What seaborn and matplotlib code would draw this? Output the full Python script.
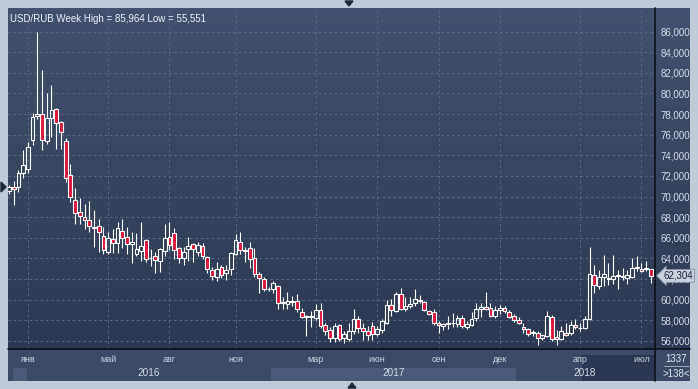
import numpy as np
import pandas as pd
import matplotlib.pyplot as plt
from matplotlib.patches import Rectangle, Polygon
from matplotlib.colors import LinearSegmentedColormap
from matplotlib.transforms import blended_transform_factory
import seaborn as sns

# weekly USD/RUB candles
opens = [70.5, 70.9, 70.9, 72.3, 72.7, 75.5, 77.8, 78.0, 75.4, 77.6,
         78.5, 77.2, 75.4, 72.1, 69.7, 68.5, 68.0, 67.7, 67.0, 67.1,
         66.2, 64.6, 65.9, 65.5, 66.7, 66.1, 65.4, 64.4, 64.7, 65.8,
         64.0, 64.2, 63.7, 64.7, 66.1, 66.5, 65.0, 64.0, 64.9, 65.4,
         64.6, 65.2, 64.1, 62.9, 62.2, 63.2, 62.6, 63.0, 64.4, 65.6,
         64.7, 65.0, 64.0, 62.5, 62.0, 61.0, 61.0, 61.3, 59.7, 59.6,
         59.8, 59.9, 58.8, 58.3, 58.3, 58.2, 59.0, 57.5, 57.0, 56.3,
         57.5, 56.3, 56.2, 56.9, 58.1, 57.2, 56.9, 57.4, 56.7, 57.0,
         57.7, 59.5, 58.9, 60.5, 59.1, 59.4, 59.7, 59.9, 59.8, 58.9,
         58.8, 57.7, 57.4, 57.6, 57.7, 57.6, 58.2, 57.3, 57.5, 58.2,
         59.1, 59.3, 59.2, 58.4, 59.0, 59.2, 58.8, 58.4, 58.0, 57.3,
         57.1, 56.8, 56.8, 56.3, 56.5, 58.3, 56.4, 56.2, 56.8, 56.8,
         57.5, 57.2, 57.2, 58.1, 62.4, 61.3, 62.2, 62.0, 62.0, 62.3,
         62.2, 62.1, 62.2, 63.1, 63.0, 63.0, 63.0]
highs = [71.1, 71.5, 72.6, 74.5, 75.3, 78.1, 86.0, 82.3, 80.0, 80.8,
         78.6, 77.3, 75.7, 73.2, 70.8, 69.9, 69.3, 69.6, 68.7, 67.8,
         67.0, 66.6, 66.8, 67.5, 67.8, 67.0, 66.6, 66.5, 67.5, 65.9,
         64.9, 64.6, 65.0, 67.3, 67.5, 66.9, 65.1, 65.1, 66.1, 65.5,
         65.6, 65.5, 64.2, 63.2, 63.6, 63.4, 63.4, 64.6, 66.4, 66.6,
         65.1, 65.6, 65.0, 62.7, 62.2, 61.2, 61.8, 61.4, 60.2, 60.7,
         60.3, 60.5, 59.2, 58.5, 58.9, 59.6, 59.7, 57.7, 57.3, 57.7,
         57.6, 56.9, 57.7, 59.1, 58.4, 57.7, 57.4, 57.8, 57.4, 58.1,
         60.0, 60.1, 60.7, 61.1, 60.2, 60.2, 61.0, 60.4, 59.9, 59.0,
         59.1, 57.9, 57.7, 58.4, 58.7, 58.5, 58.5, 57.9, 58.8, 59.7,
         59.7, 60.7, 59.7, 59.4, 59.5, 59.4, 59.0, 58.6, 58.3, 57.7,
         57.2, 57.0, 56.9, 56.5, 58.9, 58.5, 57.0, 57.4, 57.7, 57.9,
         58.1, 57.7, 58.4, 65.1, 63.4, 62.9, 64.3, 63.5, 64.3, 62.9,
         63.1, 62.9, 64.0, 64.2, 63.5, 63.7, 63.0]
lows = [70.2, 69.2, 70.4, 71.8, 72.3, 75.0, 77.5, 74.5, 75.1, 75.8,
        74.6, 74.6, 71.4, 69.5, 67.3, 67.3, 66.8, 66.6, 65.1, 64.6,
        64.4, 64.4, 64.5, 64.5, 65.0, 64.4, 63.5, 64.2, 63.7, 63.6,
        63.3, 62.6, 62.7, 64.2, 64.8, 63.9, 63.5, 63.4, 63.7, 63.6,
        64.2, 63.9, 62.6, 61.9, 61.8, 62.1, 61.9, 62.4, 64.3, 64.4,
        63.6, 63.1, 62.2, 60.6, 60.8, 60.8, 60.6, 59.1, 59.1, 59.1,
        59.4, 58.8, 58.2, 56.5, 57.3, 58.0, 57.2, 56.6, 55.9, 55.9,
        56.0, 55.8, 56.0, 56.7, 56.8, 56.1, 56.1, 56.1, 56.5, 56.8,
        57.6, 58.4, 58.8, 59.0, 58.9, 59.2, 59.4, 59.7, 58.9, 58.5,
        57.5, 56.8, 57.0, 57.1, 57.3, 57.3, 57.2, 57.1, 57.4, 57.9,
        58.3, 59.0, 58.3, 58.2, 58.6, 58.7, 58.2, 57.8, 57.6, 56.8,
        56.5, 56.5, 55.6, 56.1, 56.4, 56.0, 55.6, 56.1, 56.5, 56.6,
        57.1, 56.9, 57.1, 58.0, 60.6, 61.0, 61.3, 61.4, 61.5, 61.0,
        61.9, 61.5, 62.1, 62.8, 62.7, 62.8, 61.6]
closes = [70.9, 70.7, 72.3, 73.1, 74.8, 77.7, 78.0, 75.5, 77.6, 78.4,
          77.1, 76.3, 71.8, 70.0, 68.4, 68.1, 67.7, 67.1, 66.95, 66.6,
          64.8, 66.0, 65.5, 66.9, 66.0, 65.4, 65.6, 64.9, 65.2, 63.9,
          64.05, 63.8, 64.9, 66.0, 65.3, 64.8, 64.0, 64.6, 65.2, 64.9,
          65.3, 64.2, 63.0, 62.3, 63.0, 62.4, 62.9, 64.5, 65.8, 64.8,
          64.8, 63.9, 62.5, 62.1, 61.0, 61.05, 61.6, 59.7, 59.75, 59.9,
          59.85, 59.1, 58.3, 58.35, 58.35, 59.0, 57.4, 56.9, 56.3, 57.4,
          56.2, 56.7, 56.9, 58.1, 57.2, 56.9, 56.6, 56.7, 57.1, 57.9,
          59.5, 59.0, 60.5, 59.1, 59.4, 59.6, 60.1, 59.95, 59.0, 58.6,
          57.7, 57.5, 57.6, 57.7, 57.75, 58.2, 57.4, 57.6, 58.1, 59.1,
          59.3, 59.1, 58.4, 59.0, 59.2, 58.9, 58.3, 58.0, 57.7, 57.1,
          56.7, 56.85, 56.3, 56.6, 58.4, 56.2, 56.2, 56.9, 56.6, 57.5,
          57.3, 57.25, 58.1, 62.5, 61.4, 62.2, 62.5, 62.05, 62.3, 62.35,
          62.3, 62.4, 63.1, 63.15, 62.8, 63.05, 62.304]
start_week = '2015-12-07'

month_ticks = ['2016-01-04', '2016-05-02', '2016-08-01', '2016-11-07', '2017-03-06',
               '2017-06-05', '2017-09-04', '2017-12-04', '2018-04-02', '2018-07-02']
month_labels = ['янв', 'май', 'авг', 'ноя', 'мар', 'июн', 'сен', 'дек', 'апр', 'июл']
years = [2016, 2017, 2018]
price_ticks = [56, 58, 60, 62, 64, 66, 68, 70, 72, 74, 76, 78, 80, 82, 84, 86]
title = 'USD/RUB Week High = 85,964 Low = 55,551'
corner_top = '1337'
corner_bottom = '>138<'

sns.set_style('dark')
plt.rcParams['font.family'] = ['Liberation Sans', 'DejaVu Sans']

df = pd.DataFrame({'open': opens, 'high': highs, 'low': lows, 'close': closes})
df['date'] = pd.date_range(start_week, periods=len(df), freq='W-MON')
df['x'] = np.arange(len(df))
df['up'] = df['close'] >= df['open']
df['top'] = df[['open', 'close']].max(axis=1)
df['bot'] = df[['open', 'close']].min(axis=1)

W, H = 698, 389


def box(x0, y0, x1, y1):
    # pixel box -> figure fraction [left, bottom, width, height]
    return [x0 / W, 1 - y1 / H, (x1 - x0) / W, (y1 - y0) / H]


fig = plt.figure(figsize=(W / 100, H / 100), dpi=100, facecolor='#c1cbd7')

# dark background with vertical gradient (plot + price scale)
bg = fig.add_axes(box(8, 8, 690, 349))
bg.imshow(np.linspace(0, 1, 256).reshape(-1, 1), aspect='auto',
          cmap=LinearSegmentedColormap.from_list('bg', ['#42516d', '#2c3851']),
          extent=[0, 1, 0, 1])
bg.set_axis_off()

ax = fig.add_axes(box(8, 9, 655, 349))
ax.set_facecolor('none')
xmin = -0.21
xmax = xmin + 647 / 4.72
ax.set_xlim(xmin, xmax)
ax.set_ylim(55.2, 88.2)

# grid
tick_pos = df['date'].searchsorted(pd.to_datetime(month_ticks))
for y in price_ticks:
    ax.axhline(y, color='#5b6a86', lw=0.7, ls=(0, (2.5, 3)), zorder=1)
for xp in tick_pos:
    ax.axvline(xp, color='#5b6a86', lw=0.7, ls=(0, (2.5, 3)), zorder=1)

# candles
ax.vlines(df['x'], df['top'], df['high'], color='white', lw=0.8, zorder=3)
ax.vlines(df['x'], df['low'], df['bot'], color='white', lw=0.8, zorder=3)
heights = (df['top'] - df['bot']).clip(lower=0.06)
ax.bar(df['x'], heights, bottom=df['bot'], width=0.8,
       color=np.where(df['up'], 'none', '#d9163c'),
       edgecolor='white', linewidth=0.8, zorder=4)

ax.set_xticks([])
ax.yaxis.tick_right()
ax.set_yticks(price_ticks)
ax.set_yticklabels([f'{v:.3f}'.replace('.', ',') for v in price_ticks])
ax.tick_params(axis='y', length=0, pad=4, labelsize=7, labelcolor='#d3dbe6')
for s in ax.spines.values():
    s.set_visible(False)

ax.text(2 / 647, 0.985, title, transform=ax.transAxes, ha='left', va='top',
        fontsize=7, color='#eef2f8')

# last price marker
last = df['close'].iloc[-1]
ax.text(1.013, last, f'{last:.3f}'.replace('.', ','),
        transform=blended_transform_factory(ax.transAxes, ax.transData),
        ha='left', va='center', fontsize=7, color='#1b2436', zorder=10,
        clip_on=False,
        bbox=dict(boxstyle='larrow,pad=0.15', fc='#c9d1dd', ec='#7f8ba0', lw=0.6))

# time scale band
bax = fig.add_axes(box(8, 349, 655, 381))
bax.set_facecolor('#3c4a65')
bax.set_xlim(xmin, xmax)
bax.set_ylim(0, 1)
bax.set_xticks([])
bax.set_yticks([])
for s in bax.spines.values():
    s.set_visible(False)
yr = df['date'].dt.year
b17 = df['x'][yr == 2017]
bax.add_patch(Rectangle((b17.min() - 0.4, 0), b17.max() - b17.min() + 0.8, 0.42,
                        color='#4b5a76', lw=0))
bax.add_patch(Rectangle((tick_pos[8] + 0.5, 0), xmax - tick_pos[8], 0.8,
                        color='#2b3750', lw=0))
bax.add_patch(Rectangle((0.85, 0), 3.0, 0.42, color='#4b5a76', lw=0))
for xp, lab in zip(tick_pos, month_labels):
    bax.text(xp, 0.66, lab, ha='center', va='center', fontsize=6.5, color='#c9d3e0')
for y in years:
    xs = df['x'][yr == y]
    bax.text((xs.min() + xs.max()) / 2, 0.24, str(y), ha='center', va='center',
             fontsize=7.2, color='#d3dbe6')

# corner box
cax = fig.add_axes(box(655, 349, 690, 381))
cax.set_facecolor('#3c4a65')
cax.set_xticks([])
cax.set_yticks([])
for s in cax.spines.values():
    s.set_visible(False)
cax.text(0.6, 0.7, corner_top, ha='center', va='center', fontsize=7, color='#dfe6ef')
cax.text(0.6, 0.22, corner_bottom, ha='center', va='center', fontsize=7, color='#dfe6ef')
cax.plot([0.25, 0.98], [0.47, 0.47], color='#aab5c5', lw=0.6)
cax.set_xlim(0, 1)
cax.set_ylim(0, 1)

# frame lines
fig.add_artist(plt.Line2D([8 / W, 690 / W], [1 - 349 / H] * 2, color='#0c1018', lw=1.2))
fig.add_artist(plt.Line2D([655 / W] * 2, [1 - 8 / H, 1 - 381 / H], color='#0c1018', lw=1.2))

# small scroll markers
tri = '#1e2739'
fig.add_artist(Polygon([[345 / W, 1 - 1 / H], [353 / W, 1 - 1 / H], [349 / W, 1 - 6 / H]],
                       closed=True, color=tri))
fig.add_artist(Polygon([[348 / W, 1 - 388 / H], [356 / W, 1 - 388 / H], [352 / W, 1 - 383 / H]],
                       closed=True, color=tri))
fig.add_artist(Polygon([[1 / W, 1 - 182 / H], [1 / W, 1 - 192 / H], [6 / W, 1 - 187 / H]],
                       closed=True, color=tri))

fig.savefig('out.png', dpi=100, facecolor=fig.get_facecolor())
